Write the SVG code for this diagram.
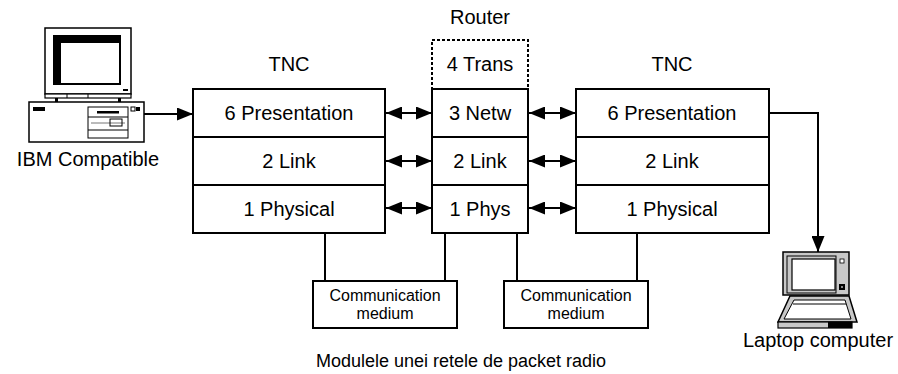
<svg xmlns="http://www.w3.org/2000/svg" width="898" height="374" viewBox="0 0 898 374">
  <style>
    .box { fill: #fff; stroke: #000; stroke-width: 2; }
    .dash { fill: #fff; stroke: #000; stroke-width: 2; stroke-dasharray: 3 2; }
    .lbl { font-family: "Liberation Sans", Arial, sans-serif; font-size: 20px; fill: #000; text-anchor: middle; }
    .small { font-family: "Liberation Sans", Arial, sans-serif; font-size: 16px; fill: #000; text-anchor: middle; }
    .cap { font-family: "Liberation Sans", Arial, sans-serif; font-size: 18px; fill: #000; text-anchor: middle; }
    .wire { fill: none; stroke: #000; stroke-width: 2; }
    .ln { fill: none; stroke: #000; stroke-width: 1.5; }
  </style>
  <defs>
    <marker id="head" viewBox="0 0 16 13" refX="16" refY="6.5" markerWidth="16" markerHeight="13" markerUnits="userSpaceOnUse" orient="auto-start-reverse">
      <path d="M0,0 L16,6.5 L0,13 z" fill="#000"/>
    </marker>
  </defs>
  <rect width="898" height="374" fill="#fff"/>

  <!-- Desktop PC -->
  <g id="pc">
    <rect x="45" y="28" width="86" height="66" fill="#fff" stroke="#000" stroke-width="1.5"/>
    <rect x="53" y="35" width="68" height="50" fill="#000"/>
    <rect x="61" y="43" width="58" height="40" fill="#fff"/>
    <rect x="123" y="89" width="5" height="2" fill="#000"/>
    <rect x="45" y="94" width="86" height="4" fill="#fff" stroke="#000" stroke-width="1.2"/>
    <line x1="67" y1="94" x2="67" y2="98" stroke="#000" stroke-width="1"/>
    <line x1="88" y1="94" x2="88" y2="98" stroke="#000" stroke-width="1"/>
    <rect x="55" y="98" width="3" height="4" fill="#000"/>
    <rect x="118" y="98" width="3" height="4" fill="#000"/>
    <rect x="29" y="102" width="115" height="40" fill="#fff" stroke="#000" stroke-width="1.5"/>
    <rect x="33" y="107" width="12" height="4" fill="#000"/>
    <rect x="88" y="107" width="40" height="31" fill="#fff" stroke="#000" stroke-width="1"/>
    <rect x="97" y="111" width="22" height="2.5" fill="#000"/>
    <line x1="88" y1="117" x2="128" y2="117" stroke="#000" stroke-width="1"/>
    <line x1="91" y1="123" x2="125" y2="123" stroke="#777" stroke-width="1"/>
    <rect x="110" y="119" width="12" height="7" fill="none" stroke="#000" stroke-width="1"/>
    <line x1="88" y1="130" x2="128" y2="130" stroke="#000" stroke-width="1"/>
    <rect x="131" y="107" width="4" height="4" fill="#fff" stroke="#000" stroke-width="1"/>
    <rect x="136" y="107" width="4" height="4" fill="#000"/>
    <text class="lbl" x="88" y="166">IBM Compatible</text>
  </g>

  <!-- Left TNC -->
  <g id="tnc-left">
    <text class="lbl" x="289" y="71">TNC</text>
    <rect class="box" x="193" y="89" width="192" height="48"/>
    <rect class="box" x="193" y="137" width="192" height="48"/>
    <rect class="box" x="193" y="185" width="192" height="48"/>
    <text class="lbl" x="289" y="120">6 Presentation</text>
    <text class="lbl" x="289" y="168">2 Link</text>
    <text class="lbl" x="289" y="216">1 Physical</text>
  </g>

  <!-- Router -->
  <g id="router">
    <text class="lbl" x="480" y="24">Router</text>
    <rect class="dash" x="432" y="40" width="96" height="49"/>
    <rect class="box" x="432" y="89" width="96" height="48"/>
    <rect class="box" x="432" y="137" width="96" height="48"/>
    <rect class="box" x="432" y="185" width="96" height="48"/>
    <text class="lbl" x="480" y="71">4 Trans</text>
    <text class="lbl" x="480" y="120">3 Netw</text>
    <text class="lbl" x="480" y="168">2 Link</text>
    <text class="lbl" x="480" y="216">1 Phys</text>
  </g>

  <!-- Right TNC -->
  <g id="tnc-right">
    <text class="lbl" x="672" y="71">TNC</text>
    <rect class="box" x="576" y="89" width="193" height="48"/>
    <rect class="box" x="576" y="137" width="193" height="48"/>
    <rect class="box" x="576" y="185" width="193" height="48"/>
    <text class="lbl" x="672" y="120">6 Presentation</text>
    <text class="lbl" x="672" y="168">2 Link</text>
    <text class="lbl" x="672" y="216">1 Physical</text>
  </g>

  <!-- Communication media -->
  <g id="medium-1">
    <rect class="box" x="313" y="281" width="144" height="47"/>
    <text class="small" x="385" y="301">Communication</text>
    <text class="small" x="385" y="319">medium</text>
  </g>
  <g id="medium-2">
    <rect class="box" x="504" y="281" width="144" height="47"/>
    <text class="small" x="576" y="301">Communication</text>
    <text class="small" x="576" y="319">medium</text>
  </g>

  <!-- Laptop -->
  <g id="laptop">
    <rect x="783" y="252" width="66" height="43" fill="#c8c8c8" stroke="#000" stroke-width="1.5"/>
    <rect x="787" y="256" width="49" height="37" fill="#c8c8c8" stroke="#000" stroke-width="1"/>
    <rect x="792" y="259" width="43" height="31" fill="#fff" stroke="#000" stroke-width="1.2"/>
    <rect x="840" y="259" width="4" height="4" fill="#fff" stroke="#000" stroke-width="0.8"/>
    <rect x="839" y="284" width="6" height="6" fill="#000"/>
    <rect x="841" y="286" width="2" height="2" fill="#888"/>
    <polygon points="790,296 849,296 857,322 778,322" fill="#c8c8c8" stroke="#000" stroke-width="1.5"/>
    <polygon points="794,300 845,300 851,319 784,319" fill="#fff" stroke="#000" stroke-width="1"/>
    <line x1="793" y1="304" x2="846" y2="304" stroke="#000" stroke-width="1"/>
    <rect x="778" y="322" width="74" height="6" fill="#c8c8c8" stroke="#000" stroke-width="1.2"/>
    <rect x="828" y="322" width="24" height="6" fill="#000"/>
    <text class="lbl" x="818" y="347">Laptop computer</text>
  </g>

  <!-- Connectors -->
  <g id="connectors">
    <line class="wire" x1="144" y1="114" x2="193" y2="114" marker-end="url(#head)"/>
    <line class="wire" x1="386" y1="113" x2="432" y2="113" marker-start="url(#head)" marker-end="url(#head)"/>
    <line class="wire" x1="386" y1="161" x2="432" y2="161" marker-start="url(#head)" marker-end="url(#head)"/>
    <line class="wire" x1="386" y1="208" x2="432" y2="208" marker-start="url(#head)" marker-end="url(#head)"/>
    <line class="wire" x1="529" y1="113" x2="576" y2="113" marker-start="url(#head)" marker-end="url(#head)"/>
    <line class="wire" x1="529" y1="161" x2="576" y2="161" marker-start="url(#head)" marker-end="url(#head)"/>
    <line class="wire" x1="529" y1="208" x2="576" y2="208" marker-start="url(#head)" marker-end="url(#head)"/>
    <polyline class="wire" points="769,113 818,113 818,252" marker-end="url(#head)"/>
    <line class="wire" x1="325" y1="233" x2="325" y2="281"/>
    <line class="wire" x1="445" y1="233" x2="445" y2="281"/>
    <line class="wire" x1="517" y1="233" x2="517" y2="281"/>
    <line class="wire" x1="637" y1="233" x2="637" y2="281"/>
  </g>

  <text class="cap" x="461" y="367">Modulele unei retele de packet radio</text>
</svg>
